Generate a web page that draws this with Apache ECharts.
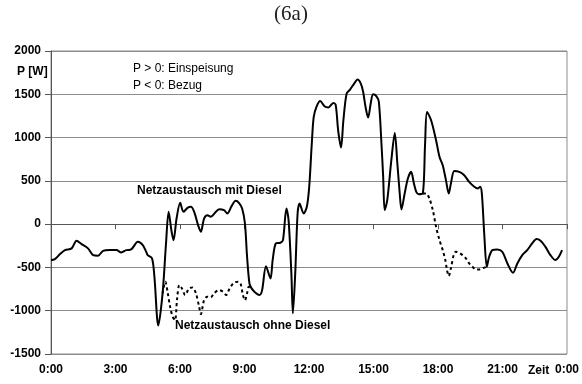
<!DOCTYPE html>
<html>
<head>
<meta charset="utf-8">
<script src="https://cdn.jsdelivr.net/npm/echarts@6/dist/echarts.min.js"></script>
<style>
  html, body { margin: 0; padding: 0; background: #fff; }
  #chart { width: 582px; height: 384px; }
</style>
</head>
<body>
<div id="chart"></div>
<script>
// Grid exchange over one day, in hours since midnight and watts
const timeMit = [
  0.00, 0.18, 0.42, 0.65, 0.96, 1.19, 1.42, 1.72, 1.96, 2.19, 2.42, 2.73, 3.04, 3.27, 3.50, 3.73,
  4.04, 4.27, 4.43, 4.50, 4.70, 4.81, 4.99, 5.19, 5.35, 5.47, 5.61, 5.70, 5.84, 6.01, 6.16, 6.35,
  6.51, 6.66, 6.84, 6.97, 7.12, 7.27, 7.43, 7.63, 7.82, 8.05, 8.20, 8.40, 8.59, 8.74, 8.89, 9.02,
  9.12, 9.23, 9.33, 9.51, 9.70, 9.82, 10.00, 10.21, 10.31, 10.46, 10.67, 10.79, 10.95, 11.05, 11.18, 11.25,
  11.36, 11.47, 11.56, 11.75, 11.90, 12.01, 12.13, 12.22, 12.36, 12.52, 12.72, 12.90, 13.13, 13.24, 13.36, 13.49,
  13.60, 13.75, 13.91, 14.10, 14.26, 14.41, 14.52, 14.63, 14.75, 14.87, 14.98, 15.14, 15.25, 15.37, 15.45, 15.52,
  15.64, 15.83, 15.99, 16.11, 16.22, 16.30, 16.45, 16.60, 16.75, 16.88, 16.99, 17.10, 17.29, 17.40, 17.49, 17.68,
  17.91, 18.07, 18.22, 18.37, 18.50, 18.60, 18.76, 18.99, 19.22, 19.45, 19.69, 19.84, 19.96, 20.04, 20.15, 20.27,
  20.38, 20.53, 20.76, 20.99, 21.23, 21.49, 21.69, 21.92, 22.15, 22.38, 22.58, 22.77, 23.00, 23.23, 23.46, 23.62,
  23.77
];
const powerMit = [
  -415, -404, -346, -300, -280, -192, -231, -280, -358, -365, -308, -300, -300, -327, -300, -292,
  -204, -242, -320, -358, -396, -608, -1170, -800, -223, 142, -88, -185, 65, 246, 142, 188,
  200, 142, -12, -88, 65, 104, 85, 131, 173, 162, 123, 208, 269, 246, 181, 8,
  -377, -685, -742, -792, -819, -762, -485, -627, -415, -223, -215, -185, 181, 46, -569, -1031,
  -569, 123, 239, 123, 200, 430, 931, 1238, 1362, 1423, 1362, 1348, 1400, 1380, 1075, 885,
  1200, 1508, 1554, 1623, 1670, 1623, 1527, 1354, 1231, 1393, 1500, 1477, 1411, 931, 546, 162,
  277, 739, 1054, 700, 354, 170, 354, 527, 604, 470, 373, 346, 354, 931, 1296, 1200,
  969, 777, 681, 508, 354, 470, 615, 604, 565, 488, 431, 412, 431, 354, -108, -492,
  -377, -300, -292, -319, -454, -562, -454, -358, -300, -223, -173, -192, -262, -358, -415, -377,
  -300
];

// Without the diesel generator: morning section
const timeOhneMorgen = [
  5.19, 5.32, 5.42, 5.54, 5.66, 5.77, 5.86, 5.97, 6.09, 6.24, 6.42, 6.58, 6.74, 6.89, 6.97, 7.12,
  7.27, 7.43, 7.58, 7.82, 8.00, 8.15, 8.31, 8.51, 8.71, 8.82, 8.92, 9.02, 9.12, 9.20, 9.33
];
const powerOhneMorgen = [
  -800, -665, -781, -954, -1070, -1108, -877, -704, -742, -819, -742, -731, -800, -954, -1039, -877,
  -838, -846, -800, -762, -781, -819, -742, -677, -665, -690, -810, -880, -800, -723, -742
];

// Without the diesel generator: evening section
const timeOhneAbend = [
  17.29, 17.45, 17.60, 17.76, 17.91, 18.07, 18.22, 18.34, 18.42, 18.50, 18.60, 18.73, 18.83, 18.99, 19.14, 19.30,
  19.45, 19.60, 19.76, 19.91, 20.06, 20.27
];
const powerOhneAbend = [
  354, 354, 296, 162, -31, -185, -300, -415, -531, -600, -511, -358, -319, -331, -358, -396,
  -454, -492, -523, -523, -511, -492
];

const yTicks = { min: -1500, max: 2000, step: 500 };
const xTicks = { min: 0, max: 24, step: 3 };

const pairs = (ts, vs) => ts.map((t, i) => [t, vs[i]]);

const labelFont = { fontFamily: 'Liberation Sans, Arial, sans-serif', fontWeight: 'bold', fontSize: 12, color: '#000' };

const chart = echarts.init(document.getElementById('chart'), null, { renderer: 'canvas' });

const dashedStyle = { color: '#000', width: 2, type: [3, 3] };

chart.setOption({
  animation: false,
  backgroundColor: '#fff',
  grid: { left: 51, right: 12, top: 51, bottom: 30, show: true, borderColor: '#8c8c8c', borderWidth: 1 },
  xAxis: {
    type: 'value',
    min: xTicks.min, max: xTicks.max, interval: xTicks.step,
    axisLine: { lineStyle: { color: '#555', width: 1 } },
    axisTick: { show: true, inside: false, length: 5, lineStyle: { color: '#555' } },
    splitLine: { show: false },
    axisLabel: Object.assign({ margin: 10, formatter: v => (v % 24) + ':00' }, labelFont)
  },
  yAxis: {
    type: 'value',
    min: yTicks.min, max: yTicks.max, interval: yTicks.step,
    axisLine: { show: true, lineStyle: { color: '#555', width: 1 } },
    axisTick: { show: true, inside: false, length: 6, lineStyle: { color: '#555' } },
    splitLine: { show: true, lineStyle: { color: '#8c8c8c', width: 1 } },
    axisLabel: Object.assign({ margin: 10, formatter: v => String(v) }, labelFont)
  },
  series: [
    {
      name: 'Netzaustausch ohne Diesel (Morgen)',
      type: 'line', smooth: 0.3, symbol: 'none',
      lineStyle: dashedStyle,
      data: pairs(timeOhneMorgen, powerOhneMorgen), z: 2
    },
    {
      name: 'Netzaustausch ohne Diesel (Abend)',
      type: 'line', smooth: 0.3, symbol: 'none',
      lineStyle: dashedStyle,
      data: pairs(timeOhneAbend, powerOhneAbend), z: 2
    },
    {
      name: 'Netzaustausch mit Diesel',
      type: 'line', smooth: 0.3, symbol: 'none',
      lineStyle: { color: '#000', width: 2 },
      data: pairs(timeMit, powerMit), z: 3
    }
  ],
  graphic: [
    { type: 'text', left: 'center', top: 4,
      style: { text: '(6a)', font: '21px "Liberation Serif", serif', fill: '#222' } },
    { type: 'text', x: 17, y: 66,
      style: { text: 'P [W]', font: 'bold 12px "Liberation Sans", Arial, sans-serif', fill: '#000' } },
    { type: 'text', x: 133, y: 63,
      style: { text: 'P > 0: Einspeisung', font: '12px "Liberation Sans", Arial, sans-serif', fill: '#000' } },
    { type: 'text', x: 133, y: 80,
      style: { text: 'P < 0: Bezug', font: '12px "Liberation Sans", Arial, sans-serif', fill: '#000' } },
    { type: 'text', x: 137, y: 185,
      style: { text: 'Netzaustausch mit Diesel', font: 'bold 12px "Liberation Sans", Arial, sans-serif', fill: '#000' } },
    { type: 'text', x: 175, y: 320,
      style: { text: 'Netzaustausch ohne Diesel', font: 'bold 12px "Liberation Sans", Arial, sans-serif', fill: '#000' } },
    { type: 'text', x: 528, y: 365,
      style: { text: 'Zeit', font: 'bold 12px "Liberation Sans", Arial, sans-serif', fill: '#000' } }
  ]
});
</script>
</body>
</html>
